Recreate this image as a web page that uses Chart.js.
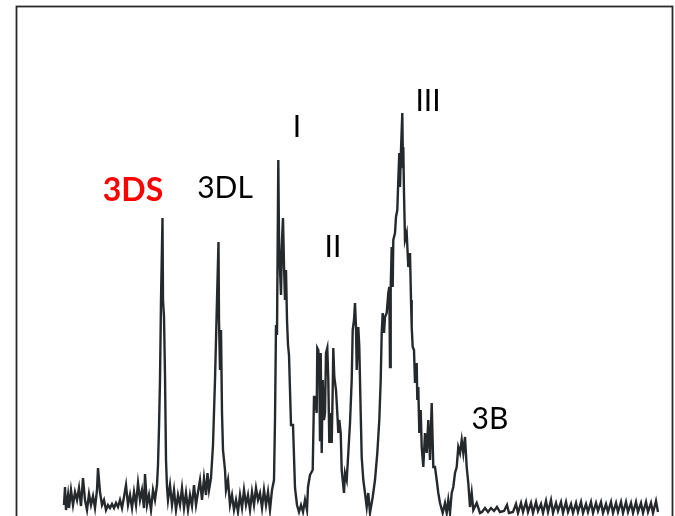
<!DOCTYPE html>
<html>
<head>
<meta charset="utf-8">
<script src="https://cdn.jsdelivr.net/npm/chart.js@4/dist/chart.umd.min.js"></script>
<style>
  html, body { margin: 0; padding: 0; background: #fff; }
  #trace { display: block; }
</style>
</head>
<body>
<canvas id="trace" width="675" height="516"></canvas>
<script>
// retention (arbitrary units) and detector signal
var retention = [
    64, 65, 66, 68, 69, 71, 73, 75, 77, 79, 81, 83, 85, 87, 89, 91, 93, 95, 97, 98,
    100, 102, 104, 106, 108, 110, 112, 114, 116, 118, 120, 122, 124, 126, 128, 130, 132, 134, 136, 138,
    140, 142, 144, 145, 147, 149, 151, 153, 155, 157, 158, 159, 160, 161, 162.5, 163, 164, 165, 166, 167,
    168, 170, 172, 174, 176, 178, 180, 182, 184, 186, 188, 190, 192, 194, 196, 198, 200, 202, 204, 206,
    207.5, 209, 211, 213, 215, 217, 218.5, 219, 220, 221, 222, 223, 225, 226, 228, 230, 232, 234, 236, 238,
    240, 242, 244, 246, 248, 250, 252, 254, 256, 258, 260, 262, 264, 266, 268, 270, 272, 274, 275, 276,
    277, 278.3, 279, 280, 281, 282, 283, 284, 285, 286, 287, 288, 289, 290, 291, 293, 295, 297, 299, 301,
    303, 305, 307, 308, 310, 312.7, 314, 315, 316.7, 317.3, 318.3, 319.3, 320, 320.7, 321.7, 322.7, 324, 325, 326, 327.3,
    328.3, 329.3, 330, 330.7, 331.7, 332.7, 333.3, 334.3, 336, 337.3, 338.3, 339.3, 340.7, 341.7, 342.7, 344, 345, 346.7, 348.3, 350,
    351.7, 352.7, 354, 355, 356, 356.7, 358.3, 359.3, 360.7, 361.7, 363.3, 365, 366.7, 368.3, 370, 372.7, 375, 377.3, 379.3, 380.7,
    381.7, 382.7, 384, 385, 386.7, 388.3, 389.3, 390, 390.7, 391.7, 392.7, 393.3, 395, 396, 397.3, 398.3, 399.3, 400, 401, 402.3,
    403, 403.3, 404, 405, 406.7, 408.3, 410, 411, 411.7, 412.7, 414, 415, 416.7, 417.3, 418.3, 419.3, 420.7, 421.7, 423.3, 425,
    426.7, 428.3, 430, 431.7, 433.3, 435, 436.7, 438.3, 440, 442.7, 445, 446.7, 448.3, 450, 451.7, 453.3, 455, 456.7, 458.3, 460,
    461.7, 463.3, 465, 466.7, 468.3, 470, 471.7, 473.3, 476.7, 480, 482, 485, 488, 491, 494, 497, 500, 504, 507, 509,
    513, 516, 518, 521, 523, 526, 528, 531, 533, 536, 538, 541, 543, 546, 548, 551, 553, 556, 558, 561,
    563, 566, 568, 571, 573, 576, 578, 581, 583, 586, 588, 591, 593, 596, 598, 601, 603, 606, 608, 611,
    613, 616, 618, 621, 623, 626, 628, 631, 633, 636, 638, 641, 643, 646, 648, 651, 653, 656, 658
];

var signal = [
    11, 29, 6, 21, 8, 26, 11, 24, 16, 28, 10, 38, 16, 6, 22, 11, 20, 8, 26, 48,
    24, 11, 16, 6, 11, 8, 12, 8, 13, 9, 16, 8, 19, 31, 11, 21, 8, 24, 11, 33,
    16, 26, 8, 42, 11, 21, 6, 26, 16, 31, 51, 88, 136, 216, 298, 216, 199, 141, 56, 29,
    16, 31, 11, 26, 6, 21, 11, 28, 8, 23, 6, 21, 10, 31, 11, 24, 36, 16, 38, 21,
    43, 26, 38, 71, 136, 216, 274, 196, 146, 186, 103, 66, 46, 26, 36, 11, 21, 6, 16, 4,
    21, 8, 26, 11, 21, 6, 24, 11, 28, 16, 23, 8, 26, 11, 24, 6, 26, 36, 96, 191,
    181, 356, 276, 246, 221, 276, 298, 251, 216, 246, 196, 171, 161, 126, 91, 91, 28, 11, 4, 11,
    4, 16, 6, 29, 41, 46, 119, 119, 103, 168, 166, 143, 76, 163, 63, 136, 96, 103, 163, 168,
    136, 73, 96, 103, 73, 126, 168, 139, 126, 103, 83, 96, 83, 46, 36, 23, 43, 36, 63, 93,
    136, 186, 196, 213, 189, 146, 189, 169, 103, 59, 36, 23, 9, 23, 3, 19, 36, 63, 96, 136,
    183, 203, 183, 199, 203, 223, 229, 149, 229, 269, 229, 276, 283, 299, 306, 336, 363, 329, 366, 403,
    349, 369, 323, 276, 283, 249, 263, 216, 189, 169, 166, 133, 153, 116, 129, 83, 106, 69, 49, 83,
    63, 96, 56, 113, 49, 49, 36, 23, 13, 3, 13, 3, 16, 3, 23, 29, 43, 49, 69, 63,
    76, 63, 79, 49, 33, 9, 23, 6, 13, 3, 4, 8, 4, 8, 5, 9, 4, 5, 11, 3,
    4, 12, 3, 13, 4, 14, 4, 13, 3, 14, 5, 12, 3, 15, 4, 16, 3, 13, 5, 14,
    3, 14, 4, 12, 3, 13, 4, 14, 3, 12, 4, 14, 3, 13, 5, 14, 3, 12, 4, 14,
    3, 13, 4, 14, 3, 14, 4, 13, 3, 14, 4, 13, 3, 14, 4, 13, 3, 15, 4
];

// peak names and where they sit (retention, signal)
var peakNames = ["3DS", "3DL", "I", "II", "III", "3B"];
var peakAt = [[133, 325], [225, 328], [297, 389], [333, 269], [428, 415], [490, 97]];

var points = retention.map(function (t, i) {
    return { x: t, y: signal[i] };
});

var framePlugin = {
    id: "frame",
    beforeDatasetsDraw: function (chart) {
        var ctx = chart.ctx;
        var a = chart.chartArea;
        ctx.save();
        ctx.strokeStyle = "#2b2b2b";
        ctx.lineWidth = 1.8;
        ctx.strokeRect(a.left - 0.5, a.top - 0.5, a.right - a.left, a.bottom - a.top + 6);
        ctx.restore();
    },
};

var labelPlugin = {
    id: "peakLabels",
    afterDatasetsDraw: function (chart) {
        var ctx = chart.ctx;
        var xs = chart.scales.x;
        var ys = chart.scales.y;
        ctx.save();
        ctx.textAlign = "center";
        ctx.textBaseline = "middle";
        peakNames.forEach(function (name, i) {
            var px = xs.getPixelForValue(peakAt[i][0]);
            var py = ys.getPixelForValue(peakAt[i][1]);
            if (name == "3DS") {
                ctx.fillStyle = "#ff0000";
                ctx.font = "bold 32px Lato, 'Open Sans', sans-serif";
            } else {
                ctx.fillStyle = "#000000";
                ctx.font = "30px Lato, 'Open Sans', sans-serif";
            }
            ctx.fillText(name, px, py);
        });
        ctx.restore();
    },
};

var chart = new Chart(document.getElementById("trace").getContext("2d"), {
    type: "line",
    data: {
        datasets: [
            {
                data: points,
                borderColor: "#26292c",
                borderWidth: 2.4,
                pointRadius: 0,
                tension: 0,
                fill: false,
            },
        ],
    },
    options: {
        responsive: false,
        animation: false,
        layout: {
            padding: { left: 17, right: 2, top: 7, bottom: 0 },
        },
        plugins: {
            legend: { display: false },
            tooltip: { enabled: false },
        },
        scales: {
            x: { type: "linear", min: 17, max: 673, display: false },
            y: { min: 0, max: 509, display: false },
        },
    },
    plugins: [framePlugin, labelPlugin],
});
</script>
</body>
</html>
